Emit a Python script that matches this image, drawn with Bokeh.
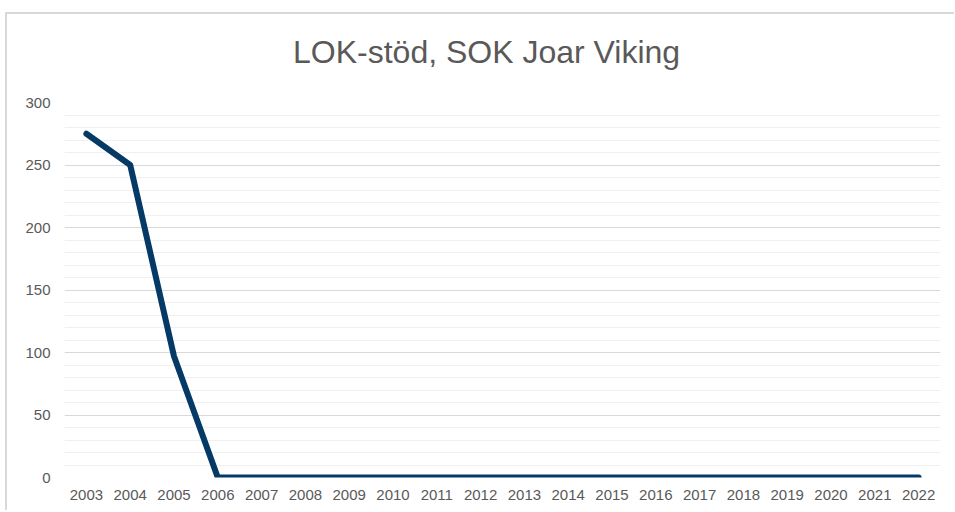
from bokeh.plotting import figure
from bokeh.models import FactorRange, Range1d, SingleIntervalTicker, Div
from bokeh.layouts import column
from bokeh.embed import file_html
from bokeh.resources import INLINE

years = [str(y) for y in range(2003, 2023)]
values = [275, 250, 97, 0, 0, 0, 0, 0, 0, 0, 0, 0, 0, 0, 0, 0, 0, 0, 0, 0]
y_ticks_interval = 50
title_text = "LOK-stöd, SOK Joar Viking"

FONT = "Liberation Sans"
GREY = "#595959"

title_div = Div(
    text=('<div style="font-family: \'Liberation Sans\'; font-size: 32px; color: #595959; '
          'line-height: 38px; padding-top: 19px; padding-left: 286px; white-space: nowrap;">'
          + title_text + '</div>'),
    width=947, height=60, margin=0)

p = figure(width=947, height=436, x_range=FactorRange(*years), y_range=Range1d(0, 300),
           output_backend="svg", toolbar_location=None,
           min_border_left=57, min_border_right=14, min_border_top=28, min_border_bottom=33)
p.title = None

p.outline_line_color = None
p.background_fill_color = "white"
p.border_fill_color = "white"

p.line(x=years, y=values, line_width=6, line_color="#063a66", line_cap="round", line_join="round")

# axes
p.yaxis.ticker = SingleIntervalTicker(interval=y_ticks_interval, num_minor_ticks=5)
for ax in (p.xaxis[0], p.yaxis[0]):
    ax.axis_line_color = None
    ax.major_tick_line_color = None
    ax.minor_tick_line_color = None
    ax.major_label_text_font = FONT
    ax.major_label_text_font_size = "15px"
    ax.major_label_text_color = GREY
p.yaxis.major_label_standoff = 8
p.xaxis.major_label_standoff = 6

p.xgrid.grid_line_color = None
p.ygrid.grid_line_color = "#d9d9d9"
p.ygrid.grid_line_width = 1
p.ygrid.minor_grid_line_color = "#f0f0f0"
p.ygrid.minor_grid_line_width = 1

layout = column(title_div, p, spacing=0,
                styles={"border-left": "2px solid #d9d9d9", "border-top": "2px solid #d9d9d9",
                        "margin-left": "5px", "margin-top": "12px", "background-color": "white"})

open("out.html", "w").write(file_html(layout, INLINE))
